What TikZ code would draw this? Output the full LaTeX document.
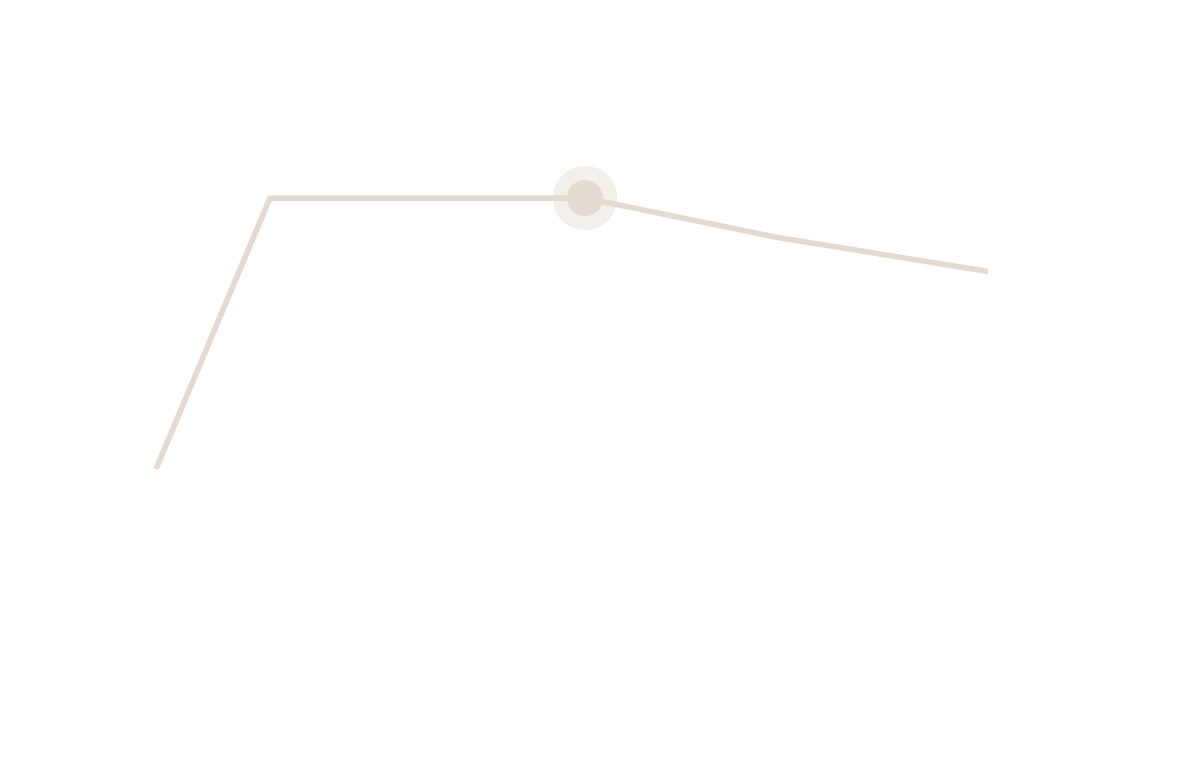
\documentclass[tikz,border=0pt]{standalone}
\definecolor{linec}{HTML}{E3DBD2}
\definecolor{haloc}{HTML}{F3EFEA}
\tikzset{trail/.style={draw=linec,line width=5.5pt,line join=miter},
halo/.style={circle,fill=haloc,minimum size=64pt,inner sep=0pt},
dotc/.style={circle,fill=linec,minimum size=36pt,inner sep=0pt}}
\begin{document}
\begin{tikzpicture}[x=1pt,y=-1pt]
\useasboundingbox[fill=white] (0,0) rectangle (1200,760);
\node[halo] (h) at (585,198) {};
\coordinate (a) at (156,469);
\coordinate (b) at (270,198);
\coordinate (c) at (585,198);
\coordinate (d) at (775,237);
\coordinate (e) at (988,271.5);
\draw[trail] (a) -- (b) -- (c) -- (d) -- (e);
\node[dotc] (p) at (c) {};
\end{tikzpicture}
\end{document}
